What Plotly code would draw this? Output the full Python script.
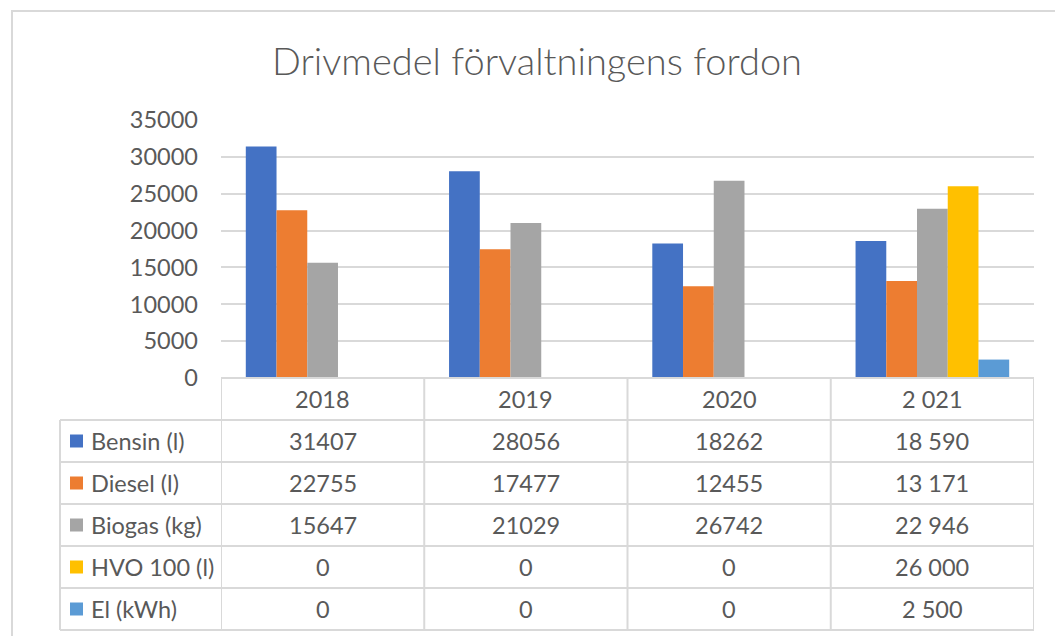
import plotly.graph_objects as go

title = "Drivmedel förvaltningens fordon"
categories = ["2018", "2019", "2020", "2 021"]
series_names = ["Bensin (l)", "Diesel (l)", "Biogas (kg)", "HVO 100 (l)", "El (kWh)"]
bensin = [31407, 28056, 18262, 18590]
diesel = [22755, 17477, 12455, 13171]
biogas = [15647, 21029, 26742, 22946]
hvo = [0, 0, 0, 26000]
el = [0, 0, 0, 2500]
space_grouped = [False, False, False, True]
y_ticks = [0, 5000, 10000, 15000, 20000, 25000, 30000, 35000]

series_values = [bensin, diesel, biogas, hvo, el]
colors = ["#4472C4", "#ED7D31", "#A5A5A5", "#FFC000", "#5B9BD5"]

W, H = 1055, 636
L, R, T, B = 221, 21, 120, 258
PW, PH = W - L - R, H - T - B
FONT = "Lato"
TXT = "#595959"
LINE = "#D9D9D9"
FS = 23.5


def px(x):
    return (x - L) / PW


def py(y):
    return (H - B - y) / PH


fig = go.Figure()
for name, vals, col in zip(series_names, series_values, colors):
    fig.add_trace(go.Bar(x=list(range(len(categories))), y=vals, name=name,
                         marker=dict(color=col, line=dict(width=0))))

shapes = []
annotations = []

# outer chart border
shapes.append(dict(type="rect", xref="paper", yref="paper",
                   x0=px(12), x1=px(1070), y0=py(650), y1=py(11),
                   line=dict(color=LINE, width=2), fillcolor="rgba(0,0,0,0)", layer="below"))

# data table geometry
header_top = H - B
row_h = 42
n_rows = len(series_names)
table_bottom = header_top + row_h * (n_rows + 1)
label_left = 60

# horizontal lines
shapes.append(dict(type="line", xref="paper", yref="paper", x0=0, x1=1,
                   y0=py(header_top), y1=py(header_top), line=dict(color=LINE, width=2)))
for r in range(1, n_rows + 2):
    yy = header_top + r * row_h
    shapes.append(dict(type="line", xref="paper", yref="paper", x0=px(label_left), x1=1,
                       y0=py(yy), y1=py(yy), line=dict(color=LINE, width=2)))
# vertical lines
shapes.append(dict(type="line", xref="paper", yref="paper", x0=px(label_left), x1=px(label_left),
                   y0=py(header_top + row_h), y1=py(table_bottom), line=dict(color=LINE, width=2)))
for i in range(len(categories) + 1):
    shapes.append(dict(type="line", xref="x", yref="paper", x0=i - 0.5, x1=i - 0.5,
                       y0=py(header_top), y1=py(table_bottom), line=dict(color=LINE, width=2)))

# header labels
for i, c in enumerate(categories):
    annotations.append(dict(x=i, y=py(header_top + row_h / 2), xref="x", yref="paper",
                            text=c, showarrow=False, xanchor="center", yanchor="middle",
                            font=dict(family=FONT, size=FS, color=TXT)))


def fmt(v, grouped):
    return f"{v:,}".replace(",", " ") if grouped else str(v)


for r, (name, vals, col) in enumerate(zip(series_names, series_values, colors)):
    cy = header_top + row_h * (r + 1) + row_h / 2
    shapes.append(dict(type="rect", xref="paper", yref="paper",
                       x0=px(70), x1=px(83), y0=py(cy - 6.5), y1=py(cy + 6.5),
                       line=dict(width=0), fillcolor=col))
    annotations.append(dict(x=px(89), y=py(cy), xref="paper", yref="paper", text=name,
                            showarrow=False, xanchor="left", yanchor="middle",
                            font=dict(family=FONT, size=FS, color=TXT)))
    for i, v in enumerate(vals):
        annotations.append(dict(x=i, y=py(cy), xref="x", yref="paper",
                                text=fmt(v, space_grouped[i]), showarrow=False,
                                xanchor="center", yanchor="middle",
                                font=dict(family=FONT, size=FS, color=TXT)))

fig.update_layout(
    width=W, height=H, autosize=False,
    margin=dict(l=L, r=R, t=T, b=B),
    paper_bgcolor="white", plot_bgcolor="white",
    showlegend=False,
    barmode="group", bargap=0.244, bargroupgap=0,
    title=dict(text=title, x=537 / W, xanchor="center", y=1 - 62 / H, yanchor="middle",
               font=dict(family=FONT, size=38, color=TXT, weight=300)),
    xaxis=dict(range=[-0.5, len(categories) - 0.5], showticklabels=False, showgrid=False,
               zeroline=False, showline=False, ticks=""),
    yaxis=dict(range=[0, 35000], tickvals=y_ticks, ticktext=[str(t) for t in y_ticks],
               showgrid=True, gridcolor=LINE, gridwidth=1.5, zeroline=False, showline=False,
               ticks="", ticklabelstandoff=22,
               tickfont=dict(family=FONT, size=FS, color=TXT)),
    shapes=shapes, annotations=annotations,
)

fig.write_html("out.html", config={"displayModeBar": False},
               post_script="document.body.style.margin='0';")
